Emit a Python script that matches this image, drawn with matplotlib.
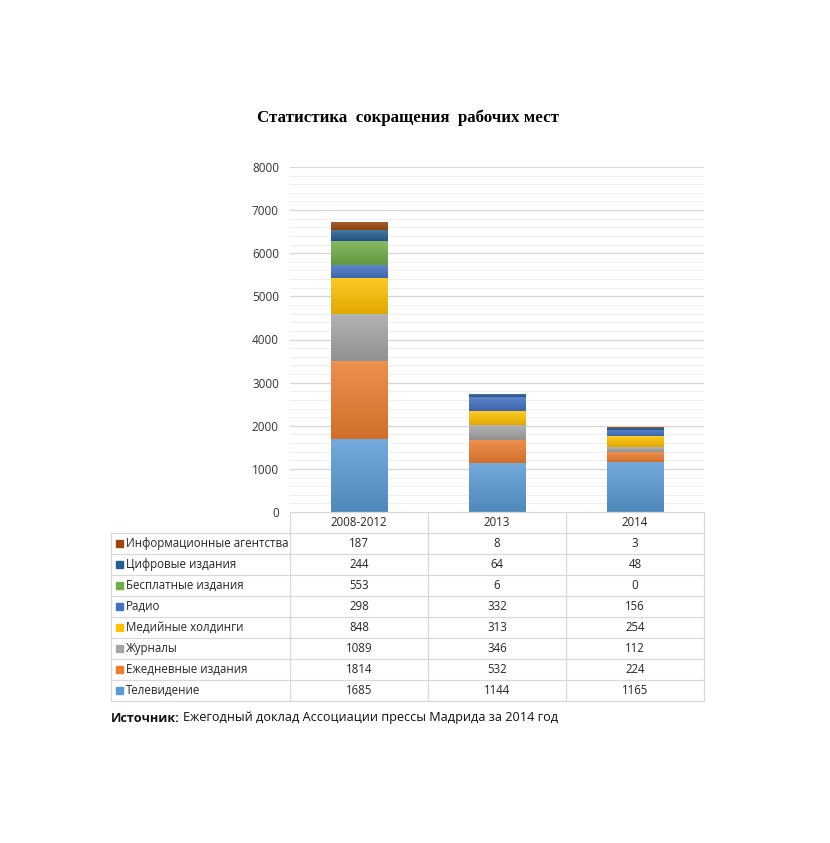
import matplotlib
matplotlib.use("Agg")
import matplotlib.pyplot as plt
import matplotlib.transforms as mtransforms
from matplotlib.lines import Line2D
from matplotlib.patches import Rectangle
from matplotlib.colors import to_rgb
import numpy as np

plt.rcParams['font.family'] = ['Open Sans', 'DejaVu Sans']

periods = ["2008-2012", "2013", "2014"]
series_names = [
    "Телевидение",
    "Ежедневные издания",
    "Журналы",
    "Медийные холдинги",
    "Радио",
    "Бесплатные издания",
    "Цифровые издания",
    "Информационные агентства",
]
tv = [1685, 1144, 1165]
daily = [1814, 532, 224]
magazines = [1089, 346, 112]
holdings = [848, 313, 254]
radio = [298, 332, 156]
free = [553, 6, 0]
digital = [244, 64, 48]
agencies = [187, 8, 3]
series_values = [tv, daily, magazines, holdings, radio, free, digital, agencies]
colors = ["#5B9BD5", "#ED7D31", "#A5A5A5", "#FFC000", "#4472C4", "#70AD47", "#255E91", "#9E480E"]
yticks = [0, 1000, 2000, 3000, 4000, 5000, 6000, 7000, 8000]

W, H = 830, 843
fig = plt.figure(figsize=(W / 100, H / 100), dpi=100)
fig.patch.set_facecolor("white")

ax_l, ax_r, ax_t, ax_b = 290, 704, 167, 512
ax = fig.add_axes([ax_l / W, 1 - ax_b / H, (ax_r - ax_l) / W, (ax_b - ax_t) / H])
ax.set_xlim(-0.5, 2.5)
ax.set_ylim(0, 8000)
for s in ax.spines.values():
    s.set_visible(False)

# gridlines
for y in np.arange(200, 8001, 200):
    major = (y % 1000 == 0)
    ax.axhline(y, color="#D6D6D6" if major else "#EFEFEF", lw=0.9 if major else 0.7, zorder=0)

def grad_img(c):
    r = np.array(to_rgb(c))
    top = r + (1 - r) * 0.15
    bot = r * 0.88
    t = np.linspace(0, 1, 64)[:, None]
    img = top[None, :] * (1 - t) + bot[None, :] * t
    return img[:, None, :]

x = np.arange(len(periods))
bottom = np.zeros(len(periods))
for vals, c in zip(series_values, colors):
    bars = ax.bar(x, vals, width=0.41, bottom=bottom, color=c, zorder=2, linewidth=0)
    for b in bars:
        if b.get_height() <= 0:
            continue
        x0, y0 = b.get_x(), b.get_y()
        im = ax.imshow(grad_img(c), extent=[x0, x0 + b.get_width(), y0, y0 + b.get_height()],
                       aspect="auto", origin="upper", zorder=3, interpolation="bilinear")
        im.set_clip_path(b)
    bottom += np.array(vals)

ax.set_xlim(-0.5, 2.5)
ax.set_ylim(0, 8000)
ax.set_yticks(yticks)
ax.set_yticklabels([str(v) for v in yticks], fontsize=8.5, color="#333333")
ax.tick_params(axis="y", length=0, pad=8)
ax.set_xticks([])

# Data table
px = (ax_b - ax_t)
def yax(py):
    return (ax_b - py) / px

trans = mtransforms.blended_transform_factory(ax.transData, ax.transAxes)
fig_tr = fig.transFigure
line_c = "#D9D9D9"
row_h = 21
header_top = 512
rows_top = 533
left_px = 111

def fline(x0, y0, x1, y1):
    fig.add_artist(Line2D([x0 / W, x1 / W], [1 - y0 / H, 1 - y1 / H], color=line_c, lw=0.9, transform=fig_tr))

for i, p in enumerate(periods):
    ax.text(i, yax(header_top + row_h / 2), p, transform=trans, ha="center", va="center",
            fontsize=8.3, color="#262626", clip_on=False)

for xp in [290, 428, 566, 704]:
    fline(xp, header_top, xp, rows_top + 8 * row_h)
fline(left_px, rows_top, left_px, rows_top + 8 * row_h)
fline(290, header_top, 704, header_top)
for k in range(9):
    yp = rows_top + k * row_h
    fline(left_px, yp, 704, yp)

order = list(range(len(series_names)))[::-1]
for r, si in enumerate(order):
    yc = rows_top + r * row_h + row_h / 2
    fig.add_artist(Rectangle(((left_px + 5) / W, 1 - (yc + 3.5) / H), 7 / W, 7 / H,
                             color=colors[si], transform=fig_tr))
    fig.text((left_px + 15) / W, 1 - yc / H, series_names[si], ha="left", va="center",
             fontsize=8.3, color="#262626")
    for i in range(len(periods)):
        ax.text(i, yax(yc), str(series_values[si][i]), transform=trans, ha="center", va="center",
                fontsize=8.3, color="#262626", clip_on=False)

fig.text(408 / W, 1 - 118 / H, "Статистика  сокращения  рабочих мест", ha="center", va="center",
         fontsize=12.2, fontweight="bold", family=["Liberation Serif", "DejaVu Serif"], color="#000000")

t1 = fig.text(111 / W, 1 - 718 / H, "Источник:", ha="left", va="center", fontsize=9.1,
              fontweight="bold", color="#111111")
fig.canvas.draw()
bb = t1.get_window_extent(fig.canvas.get_renderer())
fig.text((bb.x1 + 3) / W, 1 - 718 / H, "Ежегодный доклад Ассоциации прессы Мадрида за 2014 год",
         ha="left", va="center", fontsize=9.1, color="#111111")

fig.savefig("out.png", dpi=100, facecolor="white")
